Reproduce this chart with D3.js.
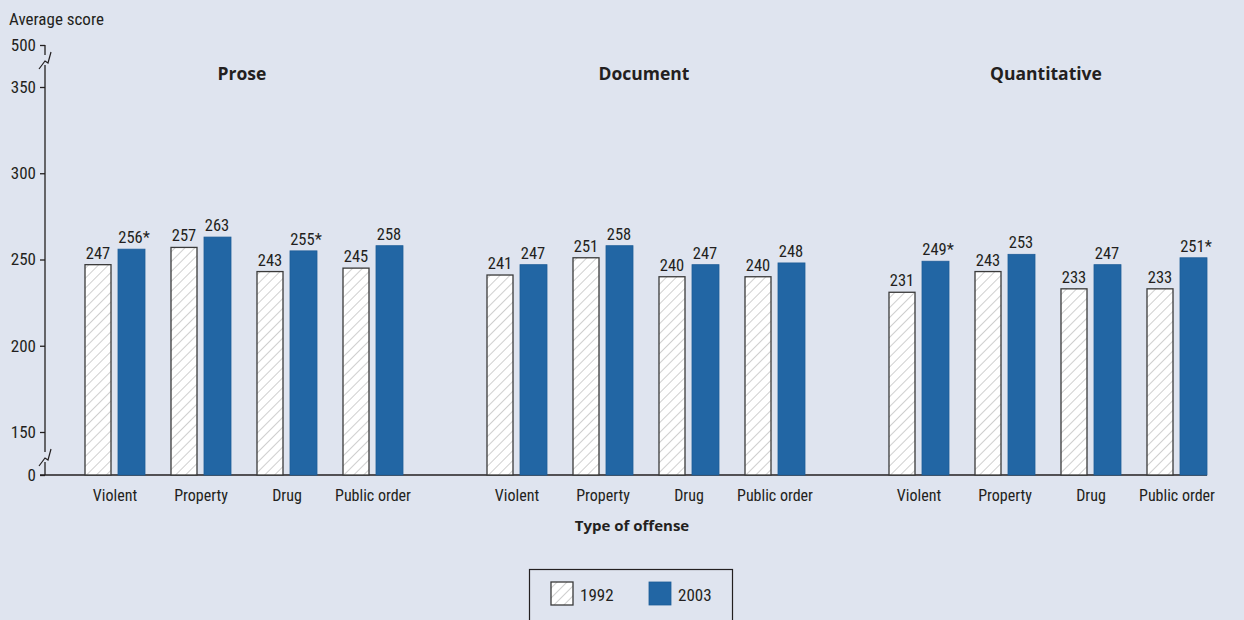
<!DOCTYPE html>
<html><head><meta charset="utf-8">
<script src="https://cdn.jsdelivr.net/npm/d3@7"></script>
<style>
body{margin:0;background:#dfe4ef;}
svg{display:block;}
text{fill:#231f20;}
.nar{font-family:"Liberation Sans Narrow","Roboto Condensed","Arial Narrow",sans-serif;}
</style></head>
<body><svg id="c" width="1244" height="620"></svg>
<script>
const panels = ["Prose", "Document", "Quantitative"];
const categories = ["Violent", "Property", "Drug", "Public order"];
const years = ["1992", "2003"];
const values1992 = {Prose:[247,257,243,245], Document:[241,251,240,240], Quantitative:[231,243,233,233]};
const values2003 = {Prose:[256,263,255,258], Document:[247,258,247,248], Quantitative:[249,253,247,251]};
const significant2003 = {Prose:[true,false,true,false], Document:[false,false,false,false], Quantitative:[true,false,false,true]};
const yTicks = [0,150,200,250,300,350,500];

const svg = d3.select("#c");
svg.append("rect").attr("width",1244).attr("height",620).attr("fill","#dfe4ef");

const defs = svg.append("defs");
const pat = defs.append("pattern").attr("id","hatch").attr("patternUnits","userSpaceOnUse")
  .attr("width",7).attr("height",7).attr("patternTransform","rotate(45)");
pat.append("rect").attr("width",7).attr("height",7).attr("fill","#ffffff");
pat.append("line").attr("x1",0).attr("y1",0).attr("x2",0).attr("y2",7).attr("stroke","#a0a0a0").attr("stroke-width",1);

const y = d3.scaleLinear().domain([0,150,350,500]).range([475,432,87,45]);
const px = d3.scalePoint().domain(panels).range([244,1048]);
const cx = d3.scalePoint().domain(categories).range([-129,129]);
const off = d3.scaleOrdinal().domain(years).range([-30,3]);
const bw = 26;

// y axis
const yAxis = d3.axisLeft(y).tickValues(yTicks).tickSize(5).tickPadding(4);
const gy = svg.append("g").attr("transform","translate(45,0)").call(yAxis);
gy.select(".domain").remove();
gy.selectAll("line").attr("stroke","#231f20").attr("stroke-width",1.3);
gy.selectAll("text").attr("class","nar").style("font-size","17px").attr("fill","#231f20");
svg.append("line").attr("x1",45).attr("x2",45).attr("y1",y(500)).attr("y2",y(0)).attr("stroke","#231f20").attr("stroke-width",1.3);
// breaks
function brk(yc){
  svg.append("rect").attr("x",43).attr("y",yc-5).attr("width",4).attr("height",10).attr("fill","#dfe4ef");
  svg.append("path").attr("d",`M39,${yc+9} L45,${yc+1} L48,${yc+3} L51,${yc-8}`).attr("fill","none").attr("stroke","#231f20").attr("stroke-width",1.2);
}
brk(60); brk(457);

// x axis
svg.append("line").attr("x1",40).attr("x2",1207).attr("y1",y(0)).attr("y2",y(0)).attr("stroke","#231f20").attr("stroke-width",1.3);

svg.append("text").attr("class","nar").attr("x",9).attr("y",25).style("font-size","17px").text("Average score");

panels.forEach(p=>{
  const g = svg.append("g").attr("transform",`translate(${px(p)},0)`);
  g.append("text").attr("x",-2).attr("y",80).attr("text-anchor","middle")
    .style("font-family","'Open Sans',sans-serif").style("font-weight","700").style("font-size","17.5px").text(p);
  categories.forEach((c,i)=>{
    const x0 = cx(c);
    const v1 = values1992[p][i], v2 = values2003[p][i];
    g.append("rect").attr("x",x0+off("1992")).attr("y",y(v1)).attr("width",bw).attr("height",y(0)-y(v1))
      .attr("fill","url(#hatch)").attr("stroke","#3a3a3a").attr("stroke-width",1.3);
    g.append("rect").attr("x",x0+off("2003")).attr("y",y(v2)).attr("width",bw+1).attr("height",y(0)-y(v2))
      .attr("fill","#2266a4").attr("stroke","#1d5c98").attr("stroke-width",0.8);
    g.append("text").attr("class","nar").attr("x",x0+off("1992")+bw/2).attr("y",y(v1)-6).attr("text-anchor","middle")
      .style("font-size","16.5px").text(v1);
    g.append("text").attr("class","nar").attr("x",x0+off("2003")+bw/2+(significant2003[p][i]?3:0)).attr("y",y(v2)-6).attr("text-anchor","middle")
      .style("font-size","16.5px").text(v2+(significant2003[p][i]?"*":""));
    g.append("text").attr("class","nar").attr("x",x0).attr("y",501).attr("text-anchor","middle")
      .style("font-size","16px").text(c);
  });
});

svg.append("text").attr("x",632).attr("y",531).attr("text-anchor","middle")
  .style("font-family","'Open Sans',sans-serif").style("font-size","15px").style("font-weight","700").text("Type of offense");

// legend
svg.append("rect").attr("x",529.5).attr("y",569.5).attr("width",203).attr("height",60).attr("fill","none").attr("stroke","#231f20").attr("stroke-width",1.2);
const lg = [{y:"1992",x:551},{y:"2003",x:649}];
lg.forEach(d=>{
  svg.append("rect").attr("x",d.x).attr("y",582).attr("width",22).attr("height",23)
    .attr("fill",d.y==="1992"?"url(#hatch)":"#2266a4").attr("stroke",d.y==="1992"?"#3a3a3a":"#1d5c98").attr("stroke-width",d.y==="1992"?1.3:0.8);
  svg.append("text").attr("class","nar").attr("x",d.x+29).attr("y",601).style("font-size","17px").text(d.y);
});
</script></body></html>
